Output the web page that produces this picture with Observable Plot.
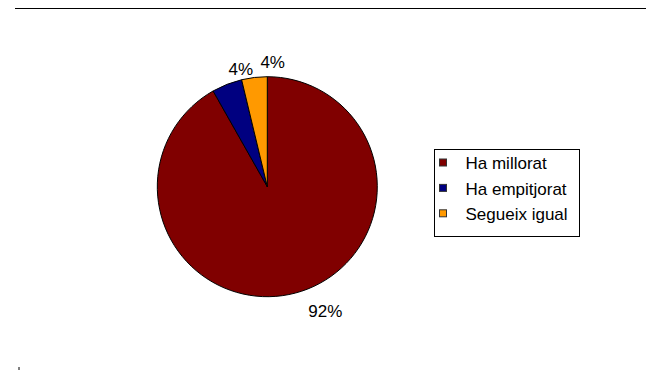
<!DOCTYPE html>
<html>
<head>
<meta charset="utf-8">
<script src="https://cdn.jsdelivr.net/npm/d3@7"></script>
<script src="https://cdn.jsdelivr.net/npm/@observablehq/plot@0.6"></script>
<style>
  html, body { margin: 0; padding: 0; background: #fff; }
  #chart svg { display: block; }
</style>
</head>
<body>
<div id="chart"></div>
<script>
// ---- data ----
const categories = ["Ha millorat", "Ha empitjorat", "Segueix igual"];
const values = [91.8, 4.45, 3.75];
const colors = ["#800000", "#000080", "#FF9900"];

// ---- layout (pixels in a 646x370 frame) ----
const W = 646, H = 370;
const CX = 267.3, CY = 186.7, R = 110;
const LABEL_R = 120;
const labelNudge = [[27, 8], [17, -6], [19, -5]];
const FONT = "Liberation Sans, Arial, Helvetica, sans-serif";

const total = d3.sum(values);
const slices = d3.pie().sort(null).value(d => d.value)(
  categories.map((c, i) => ({category: c, value: values[i], color: colors[i], i}))
);
const labels = slices.map((s, i) => {
  const mid = (s.startAngle + s.endAngle) / 2;
  return {
    text: Math.round(s.data.value / total * 100) + "%",
    x: CX + LABEL_R * Math.sin(mid) + labelNudge[i][0],
    y: CY - LABEL_R * Math.cos(mid) + labelNudge[i][1]
  };
});

const legend = categories.map((c, i) => ({category: c, color: colors[i], y: 162.5 + i * 25.4}));

const pieMark = (index, scales) => {
  const cx = scales.x(CX), cy = scales.y(CY);
  const r = scales.x(CX + R) - scales.x(CX);
  const arc = d3.arc().innerRadius(0).outerRadius(r);
  const g = d3.create("svg:g").attr("transform", `translate(${cx},${cy})`);
  g.selectAll("path").data(slices).join("path")
    .attr("d", arc)
    .attr("fill", d => d.data.color)
    .attr("stroke", "#000")
    .attr("stroke-width", 1)
    .attr("stroke-linejoin", "round");
  return g.node();
};

const chart = Plot.plot({
  width: W,
  height: H,
  margin: 0,
  style: {fontFamily: FONT, background: "#fff"},
  x: {domain: [0, W], range: [0, W], axis: null},
  y: {domain: [0, H], range: [0, H], axis: null},
  marks: [
    Plot.ruleY([8], {x1: 15, x2: W, stroke: "#000", strokeWidth: 1}),
    pieMark,
    Plot.text(labels, {x: "x", y: "y", text: "text", fontSize: 17, fill: "#000", fontFamily: FONT}),
    Plot.rect([0], {x1: 434.5, x2: 579.5, y1: 149.5, y2: 236.5, fill: "#fff", stroke: "#000", strokeWidth: 1}),
    Plot.rect(legend, {x1: 439.5, x2: 446.5, y1: d => d.y - 3.5, y2: d => d.y + 3.5, fill: "color", stroke: "#333", strokeWidth: 1}),
    Plot.text(legend, {x: 465, y: d => d.y + 1, text: "category", textAnchor: "start", fontSize: 17, fill: "#000", fontFamily: FONT}),
    Plot.ruleX([18.5], {y1: 367, y2: 370, stroke: "#000", strokeWidth: 1})
  ]
});
document.getElementById("chart").append(chart);
</script>
</body>
</html>
